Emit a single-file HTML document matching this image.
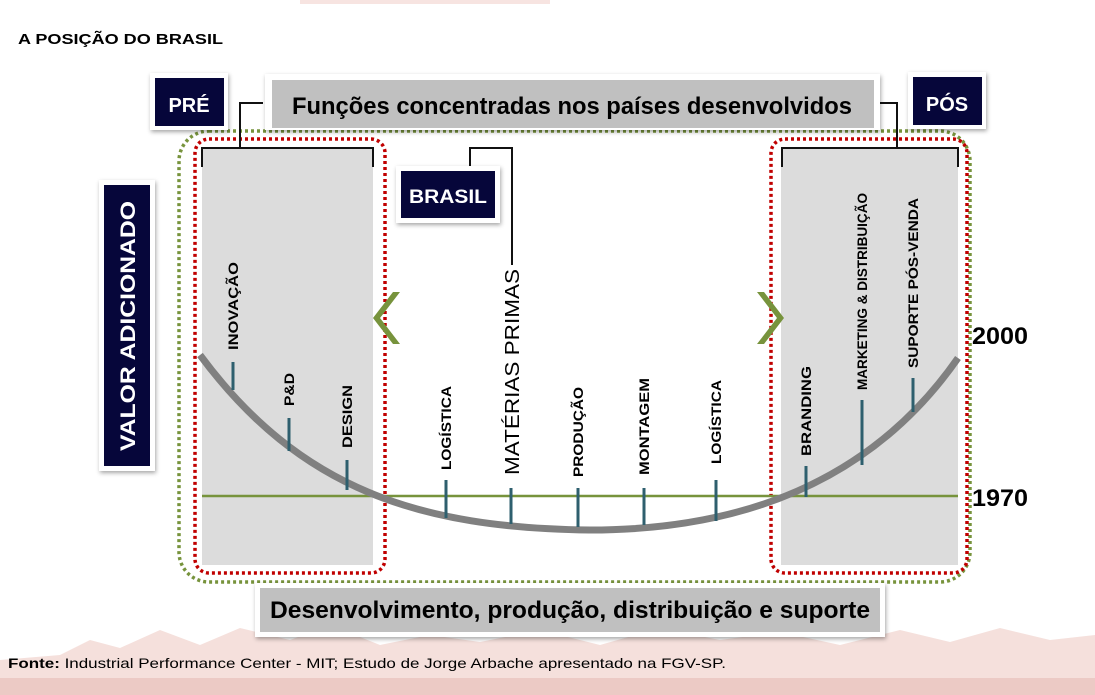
<!DOCTYPE html>
<html><head><meta charset="utf-8"><style>
html,body{margin:0;padding:0;background:#fff;}
svg{display:block;}
text{font-family:"Liberation Sans",sans-serif;}
.b{font-weight:bold;}
</style></head><body>
<svg width="1095" height="695" viewBox="0 0 1095 695" xmlns="http://www.w3.org/2000/svg">
<defs>
<filter id="sh" x="-10%" y="-10%" width="120%" height="130%"><feDropShadow dx="1" dy="2" stdDeviation="2" flood-color="#000" flood-opacity="0.35"/></filter>
</defs>
<rect x="300" y="0" width="250" height="4" fill="#f7e4e1"/>
<path d="M0 695 L0 660 L60 655 L90 640 L120 648 L160 630 L200 645 L240 628 L290 640 L330 625 L380 645 L430 635 L480 642 L540 630 L600 645 L660 628 L720 640 L780 632 L840 645 L900 630 L950 642 L1000 628 L1050 640 L1095 635 L1095 695 Z" fill="#f5e0dc"/>
<rect x="0" y="678" width="1095" height="17" fill="#eccac5"/>

<text class="b" x="18" y="44" font-size="15" textLength="205" lengthAdjust="spacingAndGlyphs">A POSIÇÃO DO BRASIL</text>

<rect x="179" y="131" width="791" height="451" rx="30" fill="none" stroke="#77933c" stroke-width="3.5" stroke-dasharray="3 3"/>
<rect x="202" y="147" width="171" height="418" fill="#dcdcdc"/>
<rect x="781" y="147" width="177" height="418" fill="#dcdcdc"/>
<rect x="195" y="139" width="190" height="434" rx="14" fill="none" stroke="#c00000" stroke-width="3.5" stroke-dasharray="3 3"/>
<rect x="771" y="139" width="196" height="434" rx="14" fill="none" stroke="#c00000" stroke-width="3.5" stroke-dasharray="3 3"/>

<g fill="none" stroke="#111" stroke-width="2">
<path d="M202 167 V148 H373 V167"/>
<path d="M240 148 V103 H263"/>
<path d="M782 167 V148 H958 V167"/>
<path d="M897 148 V103 H876"/>
<path d="M470 168 V148 H512 V265"/>
</g>

<rect x="150" y="73" width="78" height="57" fill="#fff" filter="url(#sh)"/>
<rect x="155" y="78" width="69" height="48" fill="#06063a"/>
<text class="b" x="189" y="112" font-size="20" fill="#fff" text-anchor="middle">PRÉ</text>

<rect x="265" y="74" width="615" height="56" fill="#fff" filter="url(#sh)"/>
<rect x="272" y="80" width="602" height="48" fill="#c0c0c0"/>
<text class="b" x="572" y="114" font-size="24" fill="#000" text-anchor="middle" textLength="560" lengthAdjust="spacingAndGlyphs">Funções concentradas nos países desenvolvidos</text>

<rect x="908" y="72" width="78" height="57" fill="#fff" filter="url(#sh)"/>
<rect x="913" y="77" width="69" height="48" fill="#06063a"/>
<text class="b" x="947" y="111" font-size="20" fill="#fff" text-anchor="middle">PÓS</text>

<rect x="396" y="166" width="104" height="57" fill="#fff" filter="url(#sh)"/>
<rect x="401" y="171" width="94" height="47" fill="#06063a"/>
<text class="b" x="448" y="203" font-size="19" fill="#fff" text-anchor="middle" textLength="78" lengthAdjust="spacingAndGlyphs">BRASIL</text>

<rect x="99" y="180" width="56" height="291" fill="#fff" filter="url(#sh)"/>
<rect x="104" y="185" width="46" height="281" fill="#06063a"/>
<text class="b" transform="translate(135,326) rotate(-90)" font-size="21" fill="#fff" text-anchor="middle" textLength="250" lengthAdjust="spacingAndGlyphs">VALOR ADICIONADO</text>

<path d="M400 292 L380 318 L400 344 L393 344 L373 318 L393 292 Z" fill="#77933c"/>
<path d="M757 292 L777 318 L757 344 L764 344 L784 318 L764 292 Z" fill="#77933c"/>

<line x1="202" y1="496" x2="958" y2="496" stroke="#77933c" stroke-width="2.5"/>
<path d="M200 355 C 300 490, 420 528, 590 530 C 760 530, 880 470, 958 358" fill="none" stroke="#808080" stroke-width="7"/>

<g stroke="#2e5f6e" stroke-width="3">
<line x1="233" y1="362" x2="233" y2="390"/>
<line x1="289" y1="418" x2="289" y2="451"/>
<line x1="347" y1="460" x2="347" y2="490"/>
<line x1="446" y1="480" x2="446" y2="518"/>
<line x1="511" y1="488" x2="511" y2="524"/>
<line x1="578" y1="488" x2="578" y2="527"/>
<line x1="644" y1="488" x2="644" y2="525"/>
<line x1="716" y1="480" x2="716" y2="521"/>
<line x1="806" y1="466" x2="806" y2="497"/>
<line x1="862" y1="400" x2="862" y2="465"/>
<line x1="913" y1="378" x2="913" y2="412"/>
</g>

<g font-size="14" fill="#000" class="b">
<text transform="translate(238,350) rotate(-90)" textLength="88" lengthAdjust="spacingAndGlyphs">INOVAÇÃO</text>
<text transform="translate(294,406) rotate(-90)" textLength="33" lengthAdjust="spacingAndGlyphs">P&amp;D</text>
<text transform="translate(352,448) rotate(-90)" textLength="63" lengthAdjust="spacingAndGlyphs">DESIGN</text>
<text transform="translate(451,470) rotate(-90)" textLength="84" lengthAdjust="spacingAndGlyphs">LOGÍSTICA</text>
<text transform="translate(583,477) rotate(-90)" textLength="90" lengthAdjust="spacingAndGlyphs">PRODUÇÃO</text>
<text transform="translate(649,475) rotate(-90)" textLength="97" lengthAdjust="spacingAndGlyphs">MONTAGEM</text>
<text transform="translate(721,464) rotate(-90)" textLength="84" lengthAdjust="spacingAndGlyphs">LOGÍSTICA</text>
<text transform="translate(811,456) rotate(-90)" textLength="90" lengthAdjust="spacingAndGlyphs">BRANDING</text>
<text transform="translate(867,390) rotate(-90)" textLength="197" lengthAdjust="spacingAndGlyphs">MARKETING &amp; DISTRIBUIÇÃO</text>
<text transform="translate(918,368) rotate(-90)" textLength="170" lengthAdjust="spacingAndGlyphs">SUPORTE PÓS-VENDA</text>
</g>
<text transform="translate(519,475) rotate(-90)" font-size="20" fill="#000" textLength="206" lengthAdjust="spacingAndGlyphs">MATÉRIAS PRIMAS</text>

<text class="b" x="972" y="344" font-size="24" fill="#000" textLength="56" lengthAdjust="spacingAndGlyphs">2000</text>
<text class="b" x="972" y="506" font-size="24" fill="#000" textLength="56" lengthAdjust="spacingAndGlyphs">1970</text>

<rect x="255" y="583" width="630" height="54" fill="#fff" filter="url(#sh)"/>
<rect x="260" y="588" width="620" height="44" fill="#c0c0c0"/>
<text class="b" x="570" y="618" font-size="24" fill="#000" text-anchor="middle" textLength="600" lengthAdjust="spacingAndGlyphs">Desenvolvimento, produção, distribuição e suporte</text>

<text x="8" y="668" font-size="14" fill="#000" textLength="718" lengthAdjust="spacingAndGlyphs"><tspan class="b">Fonte:</tspan> Industrial Performance Center - MIT; Estudo de Jorge Arbache apresentado na FGV-SP.</text>
</svg>
</body></html>
